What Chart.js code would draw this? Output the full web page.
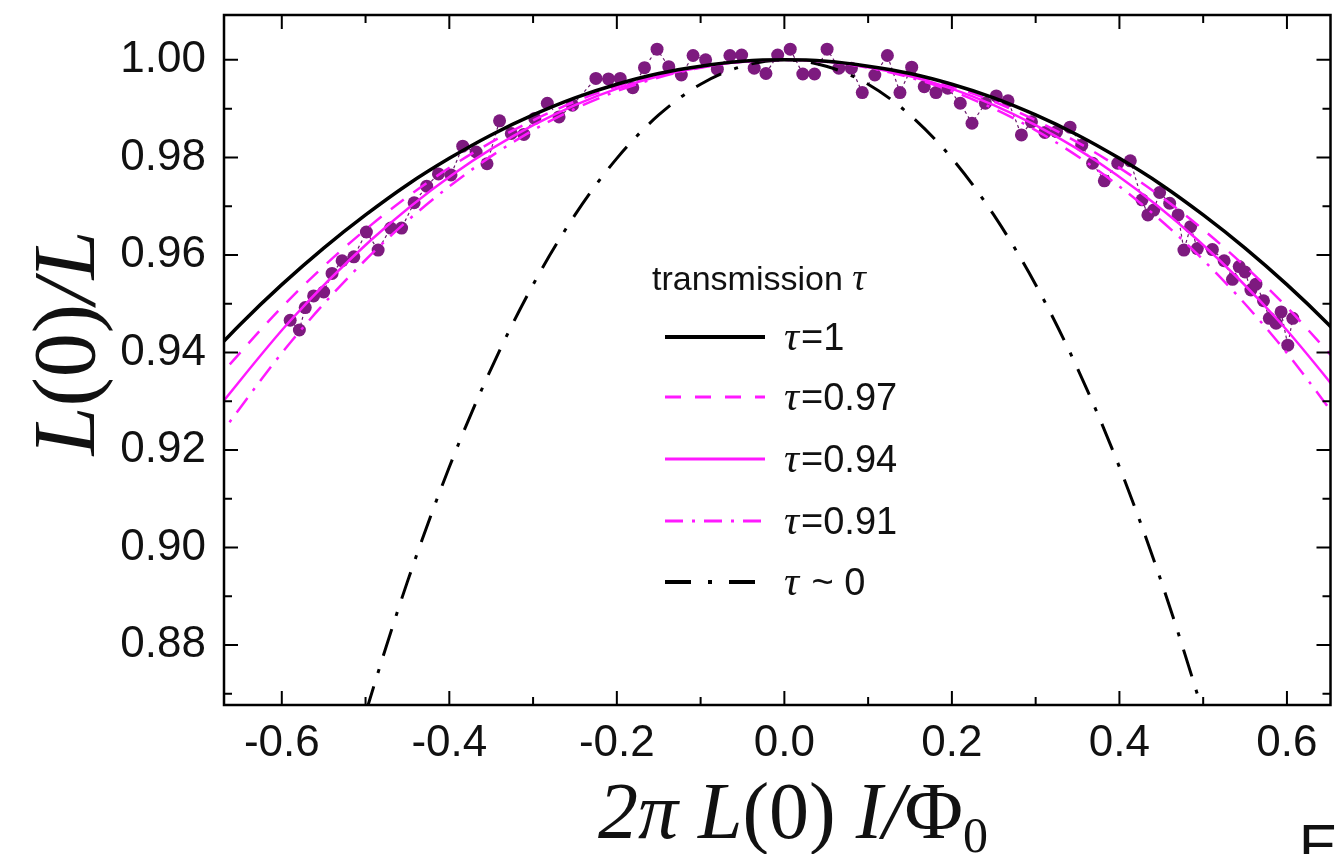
<!DOCTYPE html>
<html>
<head>
<meta charset="utf-8">
<script src="https://cdn.jsdelivr.net/npm/chart.js@4.4.0/dist/chart.umd.min.js"></script>
<style>
  html, body { margin: 0; padding: 0; background: #fff; }
  #wrap { width: 1337px; height: 854px; position: relative; }
</style>
</head>
<body>
<div id="wrap"><canvas id="chart"></canvas></div>
<script>
// ---- measured points (purple dots) ----
const dataX = [-0.590,-0.579,-0.572,-0.562,-0.550,-0.540,-0.528,-0.514,-0.499,-0.485,-0.470,-0.457,-0.442,-0.427,-0.413,-0.398,-0.384,-0.368,-0.355,-0.340,-0.326,-0.311,-0.298,-0.283,-0.269,-0.253,-0.225,-0.210,-0.196,-0.181,-0.167,-0.152,-0.138,-0.123,-0.109,-0.094,-0.080,-0.065,-0.051,-0.036,-0.022,-0.008,0.007,0.022,0.036,0.051,0.065,0.080,0.093,0.108,0.123,0.138,0.152,0.167,0.181,0.195,0.210,0.224,0.240,0.253,0.267,0.283,0.295,0.311,0.325,0.341,0.355,0.368,0.382,0.398,0.413,0.427,0.434,0.441,0.448,0.460,0.470,0.477,0.485,0.493,0.511,0.525,0.535,0.543,0.550,0.557,0.563,0.572,0.579,0.587,0.593,0.601,0.607];
const dataY = [0.9466,0.9446,0.9492,0.9516,0.9524,0.9562,0.9588,0.9596,0.9647,0.9610,0.9655,0.9655,0.9707,0.9741,0.9766,0.9764,0.9823,0.9811,0.9787,0.9875,0.9849,0.9847,0.9880,0.9911,0.9883,0.9907,0.9962,0.9961,0.9962,0.9943,0.9984,1.0022,0.9986,0.9969,1.0009,1.0000,0.9981,1.0009,1.0010,0.9983,0.9972,1.0010,1.0022,0.9971,0.9971,1.0022,0.9983,0.9983,0.9933,0.9969,1.0009,0.9933,0.9985,0.9945,0.9933,0.9942,0.9911,0.9870,0.9911,0.9926,0.9916,0.9846,0.9873,0.9851,0.9853,0.9862,0.9825,0.9788,0.9752,0.9788,0.9793,0.9713,0.9682,0.9692,0.9728,0.9706,0.9682,0.9610,0.9658,0.9613,0.9611,0.9588,0.9550,0.9576,0.9565,0.9528,0.9540,0.9506,0.9470,0.9460,0.9483,0.9415,0.9470];

// ---- curves ----
const tau1X = [-0.70,-0.65,-0.60,-0.55,-0.50,-0.45,-0.40,-0.35,-0.30,-0.25,-0.20,-0.15,-0.10,-0.05,0,0.05,0.10,0.15,0.20,0.25,0.30,0.35,0.40,0.45,0.50,0.55,0.60,0.65,0.70];
const tau1Y = [0.9367,0.9457,0.9539,0.9614,0.9682,0.9744,0.9798,0.9846,0.9887,0.9922,0.9950,0.9972,0.9987,0.9997,1.0000,0.9997,0.9987,0.9972,0.9950,0.9922,0.9887,0.9846,0.9798,0.9744,0.9682,0.9614,0.9539,0.9457,0.9367];

const tau97X = [-0.6844,-0.5902,-0.4943,-0.3971,-0.2988,-0.1996,-0.1000,0,0.1000,0.1996,0.2988,0.3971,0.4943,0.5902,0.6844];
const tau97Y = [0.9333,0.9510,0.9660,0.9782,0.9877,0.9946,0.9986,1.0000,0.9986,0.9946,0.9877,0.9782,0.9660,0.9510,0.9333];

const tau94X = [-0.6831,-0.5894,-0.4938,-0.3968,-0.2987,-0.1996,-0.1000,0,0.1000,0.1996,0.2987,0.3968,0.4938,0.5894,0.6831];
const tau94Y = [0.9272,0.9466,0.9630,0.9764,0.9867,0.9941,0.9985,1.0000,0.9985,0.9941,0.9867,0.9764,0.9630,0.9466,0.9272];

const tau91X = [-0.6817,-0.5885,-0.4934,-0.3966,-0.2986,-0.1996,-0.0999,0,0.0999,0.1996,0.2986,0.3966,0.4934,0.5885,0.6817];
const tau91Y = [0.9213,0.9423,0.9601,0.9745,0.9857,0.9936,0.9984,1.0000,0.9984,0.9936,0.9857,0.9745,0.9601,0.9423,0.9213];

const tau0X = [-0.52,-0.50,-0.45,-0.40,-0.35,-0.30,-0.25,-0.20,-0.15,-0.10,-0.05,0,0.05,0.10,0.15,0.20,0.25,0.30,0.35,0.40,0.45,0.50,0.52];
const tau0Y = [0.8542,0.8660,0.8930,0.9165,0.9367,0.9539,0.9682,0.9798,0.9887,0.9950,0.9987,1.0000,0.9987,0.9950,0.9887,0.9798,0.9682,0.9539,0.9367,0.9165,0.8930,0.8660,0.8542];

const xMajor = [-0.6,-0.4,-0.2,0,0.2,0.4,0.6];
const xMinor = [-0.5,-0.3,-0.1,0.1,0.3,0.5];
const yMajor = [0.88,0.90,0.92,0.94,0.96,0.98,1.00];
const yMinor = [0.87,0.89,0.91,0.93,0.95,0.97,0.99];

const MAGENTA = '#ff19ff';
const DOT = '#7d1a7f';
const SANS = '"Liberation Sans", Arial, sans-serif';
const SERIF = '"Liberation Serif", "Times New Roman", serif';

const pts = (xs, ys) => xs.map((x, i) => ({ x: x, y: ys[i] }));

// legend entries: label suffix, colour, width, dash
const legendItems = [
  { txt: '=1',    color: '#000', width: 4,   dash: [] },
  { txt: '=0.97', color: MAGENTA, width: 3,  dash: [16, 14] },
  { txt: '=0.94', color: MAGENTA, width: 3,  dash: [] },
  { txt: '=0.91', color: MAGENTA, width: 3,  dash: [18, 9, 3, 9] },
  { txt: ' ~ 0',  color: '#000', width: 4,   dash: [26, 17, 4, 17] }
];

function drawRuns(ctx, runs, cx, baseline) {
  let total = 0;
  runs.forEach(r => { ctx.font = r.font; r.w = ctx.measureText(r.t).width; total += r.w; });
  let x = cx - total / 2;
  runs.forEach(r => {
    ctx.font = r.font;
    ctx.fillText(r.t, x, baseline + (r.dy || 0));
    x += r.w;
  });
}

const decor = {
  id: 'decor',
  afterDraw(chart) {
    const ctx = chart.ctx;
    const a = chart.chartArea;
    const sx = chart.scales.x, sy = chart.scales.y;
    ctx.save();
    ctx.strokeStyle = '#000';
    ctx.lineWidth = 2.5;
    ctx.setLineDash([]);
    ctx.strokeRect(a.left, a.top, a.right - a.left, a.bottom - a.top);

    // inward ticks on all four sides
    ctx.lineWidth = 2;
    ctx.beginPath();
    const xt = (vals, len) => vals.forEach(v => {
      const p = sx.getPixelForValue(v);
      ctx.moveTo(p, a.bottom); ctx.lineTo(p, a.bottom - len);
      ctx.moveTo(p, a.top); ctx.lineTo(p, a.top + len);
    });
    const yt = (vals, len) => vals.forEach(v => {
      const p = sy.getPixelForValue(v);
      ctx.moveTo(a.left, p); ctx.lineTo(a.left + len, p);
      ctx.moveTo(a.right, p); ctx.lineTo(a.right - len, p);
    });
    xt(xMajor, 14); xt(xMinor, 8);
    yt(yMajor, 14); yt(yMinor, 8);
    ctx.stroke();

    // legend
    ctx.fillStyle = '#111';
    ctx.textBaseline = 'alphabetic';
    ctx.font = '34px ' + SANS;
    ctx.fillText('transmission ', 652, 290);
    let w = ctx.measureText('transmission ').width;
    ctx.font = 'italic 38px ' + SERIF;
    ctx.fillText('\u03c4', 652 + w, 290);

    const rows = [337, 397, 459, 521, 582];
    legendItems.forEach((it, i) => {
      const y = rows[i];
      ctx.strokeStyle = it.color;
      ctx.lineWidth = it.width;
      ctx.setLineDash(it.dash);
      ctx.beginPath();
      ctx.moveTo(665, y); ctx.lineTo(765, y);
      ctx.stroke();
      ctx.setLineDash([]);
      ctx.font = 'italic 42px ' + SERIF;
      ctx.fillText('\u03c4', 784, y + 13);
      const tw = ctx.measureText('\u03c4').width;
      ctx.font = '38px ' + SANS;
      ctx.fillText(it.txt, 784 + tw + 2, y + 13);
    });

    // x-axis title
    const fs = 80;
    drawRuns(ctx, [
      { t: '2\u03c0 L', font: 'italic ' + fs + 'px ' + SERIF },
      { t: '(0) ', font: fs + 'px ' + SERIF },
      { t: 'I/', font: 'italic ' + fs + 'px ' + SERIF },
      { t: '\u03a6', font: fs + 'px ' + SERIF },
      { t: '0', font: Math.round(fs * 0.62) + 'px ' + SERIF, dy: 14 }
    ], 793, 838);

    // y-axis title
    ctx.save();
    ctx.translate(94, 343);
    ctx.rotate(-Math.PI / 2);
    drawRuns(ctx, [
      { t: 'L', font: 'italic 88px ' + SERIF },
      { t: '(0)', font: '88px ' + SERIF },
      { t: '/L', font: 'italic 88px ' + SERIF }
    ], 0, 0);
    ctx.restore();

    // clipped panel letter at bottom right
    ctx.font = '58px ' + SANS;
    ctx.fillText('E', 1299, 865);
    ctx.restore();
  }
};

new Chart(document.getElementById('chart'), {
  type: 'scatter',
  data: {
    datasets: [
      { label: 'tau=1', data: pts(tau1X, tau1Y), showLine: true, borderColor: '#000', borderWidth: 3.5, pointRadius: 0, cubicInterpolationMode: 'monotone', order: 1 },
      { label: 'tau=0.97', data: pts(tau97X, tau97Y), showLine: true, borderColor: MAGENTA, borderWidth: 2.5, borderDash: [16, 12], pointRadius: 0, cubicInterpolationMode: 'monotone', order: 2 },
      { label: 'tau=0.94', data: pts(tau94X, tau94Y), showLine: true, borderColor: MAGENTA, borderWidth: 2.5, pointRadius: 0, cubicInterpolationMode: 'monotone', order: 3 },
      { label: 'tau=0.91', data: pts(tau91X, tau91Y), showLine: true, borderColor: MAGENTA, borderWidth: 2.5, borderDash: [18, 9, 3, 9], pointRadius: 0, cubicInterpolationMode: 'monotone', order: 4 },
      { label: 'tau~0', data: pts(tau0X, tau0Y), showLine: true, borderColor: '#000', borderWidth: 3, borderDash: [28, 14, 4, 14], pointRadius: 0, cubicInterpolationMode: 'monotone', order: 5 },
      { label: 'data', data: pts(dataX, dataY), showLine: true, borderColor: '#6a1a6c', borderWidth: 1.2, borderDash: [3, 3], pointRadius: 6.5, pointBackgroundColor: DOT, pointBorderColor: DOT, pointBorderWidth: 0, order: 10 }
    ]
  },
  options: {
    responsive: true,
    maintainAspectRatio: false,
    animation: false,
    devicePixelRatio: 1,
    layout: { padding: { top: 15, right: 4, left: 0, bottom: 0 } },
    plugins: { legend: { display: false }, tooltip: { enabled: false } },
    scales: {
      x: {
        type: 'linear', min: -0.669, max: 0.652,
        grid: { display: false, drawTicks: false },
        border: { display: false },
        ticks: {
          stepSize: 0.2, includeBounds: false, padding: 12, maxRotation: 0, autoSkip: false,
          color: '#111', font: { family: SANS, size: 44 },
          callback: v => Math.abs(v) < 1e-9 ? '0.0' : v.toFixed(1)
        },
        afterFit: s => { s.height = 149; s.paddingLeft = 0; s.paddingRight = 0; }
      },
      y: {
        type: 'linear', min: 0.8677, max: 1.0092,
        grid: { display: false, drawTicks: false },
        border: { display: false },
        ticks: {
          stepSize: 0.02, includeBounds: false, padding: 18, autoSkip: false,
          color: '#111', font: { family: SANS, size: 44 },
          callback: v => v.toFixed(2)
        },
        afterFit: s => { s.width = 224; s.paddingTop = 0; s.paddingBottom = 0; }
      }
    }
  },
  plugins: [decor]
});
</script>
</body>
</html>
